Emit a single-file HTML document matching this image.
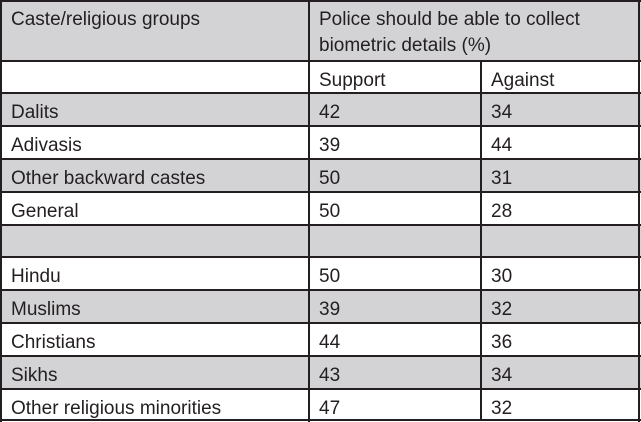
<!DOCTYPE html>
<html><head><meta charset="utf-8"><style>
html,body{margin:0;padding:0;background:#fff;}
#t{position:relative;width:641px;height:422px;font-family:"Liberation Sans",sans-serif;font-size:19px;color:#231f20;}
.c{position:absolute;box-sizing:border-box;padding:8px 0 0 10px;line-height:24px;white-space:nowrap;overflow:hidden;}
.hl{position:absolute;left:0;width:641px;height:2px;background:#231f20;}
.vl{position:absolute;top:1px;width:2px;height:421px;background:#231f20;}
</style></head><body>
<div id="t"></div>
<script>
const groups=["Dalits","Adivasis","Other backward castes","General","","Hindu","Muslims","Christians","Sikhs","Other religious minorities"];
const support=["42","39","50","50","","50","39","44","43","47"];
const against=["34","44","31","28","","30","32","36","34","32"];
const t=document.getElementById('t');
const lines=[1,61,93,126,159,192,225,257,290,323,356,389,420];
const cols=[1,309,481,639];
const gray="#d3d3d5";
function cell(x,y,w,h,txt,bg,name,pt){
 const d=document.createElement('div');d.className='c';
 d.style.left=x+'px';d.style.top=y+'px';d.style.width=w+'px';d.style.height=h+'px';
 d.style.background=bg;d.innerHTML=txt;
 if(pt!==undefined){d.style.paddingTop=pt+'px';d.style.lineHeight='26px';}
 
 
 t.appendChild(d);
}
cell(1,1,308,60,"Caste/religious groups",gray,"header-groups",6);
cell(309,1,332,60,"Police should be able to collect<br>biometric details (%)",gray,"header-question",6);
cell(1,61,308,32,"","#fff","subheader-blank");
cell(309,61,172,32,"Support","#fff","subheader-support");
cell(481,61,160,32,"Against","#fff","subheader-against");
for(let i=0;i<groups.length;i++){
 const y=lines[i+2],h=lines[i+3]-y,bg=(i%2===0)?gray:"#fff";
 cell(1,y,308,h,groups[i],bg,"row-label");
 cell(309,y,172,h,support[i],bg,"support-value");
 cell(481,y,160,h,against[i],bg,"against-value");
}
lines.forEach(y=>{const l=document.createElement('div');l.className='hl';l.style.top=(y-1)+'px';
 
 
 t.appendChild(l);});
cols.forEach((x,i)=>{const l=document.createElement('div');l.className='vl';l.style.left=(x-1)+'px';
 if(i===2){l.style.top='61px';l.style.height='360px';}
 
 
 t.appendChild(l);});
</script>
</body></html>
